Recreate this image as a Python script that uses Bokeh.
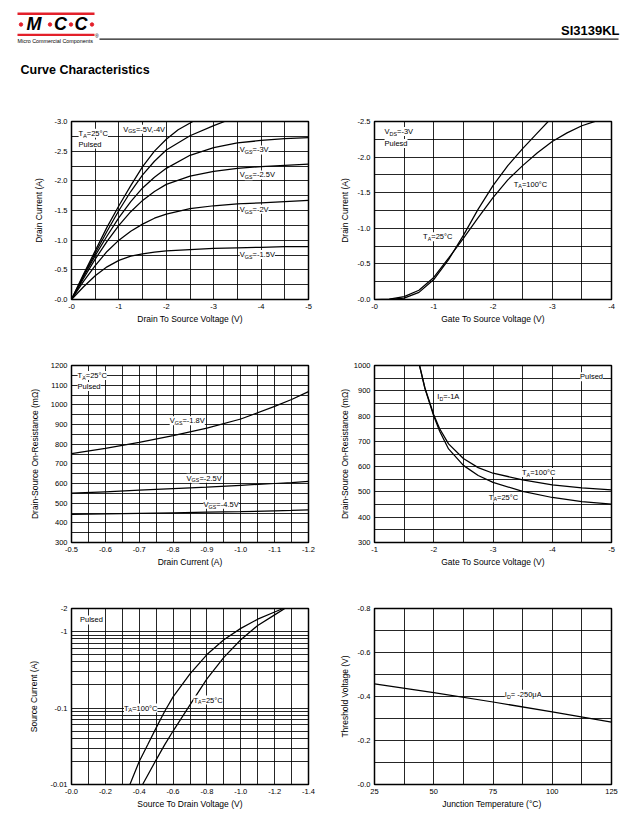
import numpy as np
from bokeh.plotting import figure
from bokeh.models import Range1d, FixedTicker, Label, BoxAnnotation, CustomJSTickFormatter
from bokeh.layouts import column, row
from bokeh.embed import file_html
from bokeh.resources import INLINE

FONT = "Liberation Sans"

# ---------------- data ----------------
# Fig 1 output characteristics (VDS in V, ID in A)
f1_vds = [0, -0.25, -0.5, -0.75, -1, -1.25, -1.5, -1.75, -2, -2.5, -3, -3.5, -4, -4.5, -5]
f1_vgs5_x = [0, -0.25, -0.5, -0.75, -1, -1.25, -1.5, -1.75, -2, -2.25, -2.56]
f1_vgs5_y = [0, -0.42, -0.82, -1.22, -1.58, -1.92, -2.24, -2.50, -2.70, -2.86, -3.0]
f1_vgs4_x = [0, -0.25, -0.5, -0.75, -1, -1.25, -1.5, -1.75, -2, -2.5, -3, -3.23]
f1_vgs4_y = [0, -0.40, -0.78, -1.15, -1.50, -1.82, -2.10, -2.33, -2.52, -2.76, -2.93, -3.0]
f1_vgs3 = [0, -0.38, -0.74, -1.07, -1.38, -1.65, -1.88, -2.06, -2.21, -2.43, -2.56, -2.64, -2.68, -2.71, -2.73]
f1_vgs25 = [0, -0.35, -0.68, -0.98, -1.25, -1.48, -1.67, -1.82, -1.94, -2.08, -2.16, -2.21, -2.24, -2.26, -2.28]
f1_vgs2 = [0, -0.30, -0.57, -0.81, -1.00, -1.15, -1.27, -1.37, -1.44, -1.53, -1.58, -1.61, -1.63, -1.65, -1.67]
f1_vgs15 = [0, -0.21, -0.40, -0.55, -0.66, -0.73, -0.77, -0.80, -0.82, -0.84, -0.86, -0.87, -0.88, -0.89, -0.89]
f1_xticks = [0, -1, -2, -3, -4, -5]
f1_xlabels = ["-0", "-1", "-2", "-3", "-4", "-5"]
f1_yticks = [0, -0.5, -1.0, -1.5, -2.0, -2.5, -3.0]
f1_ylabels = ["-0.0", "-0.5", "-1.0", "-1.5", "-2.0", "-2.5", "-3.0"]

# Fig 2 transfer characteristics (VGS in V, ID in A)
f2_vgs25 = [0, -0.25, -0.5, -0.75, -1, -1.25, -1.5, -1.75, -2, -2.25, -2.5, -2.75, -3]
f2_id25 = [0, -0.003, -0.02, -0.10, -0.28, -0.56, -0.90, -1.27, -1.60, -1.88, -2.12, -2.34, -2.56]
f2_vgs100 = [0, -0.25, -0.5, -0.75, -1, -1.25, -1.5, -1.75, -2, -2.25, -2.5, -2.75, -3, -3.25, -3.5, -3.75, -4]
f2_id100 = [0, -0.005, -0.04, -0.13, -0.31, -0.58, -0.86, -1.15, -1.43, -1.68, -1.88, -2.06, -2.22, -2.34, -2.44, -2.51, -2.57]
f2_xticks = [0, -1, -2, -3, -4]
f2_xlabels = ["-0", "-1", "-2", "-3", "-4"]
f2_yticks = [0, -0.5, -1.0, -1.5, -2.0, -2.5]
f2_ylabels = ["-0.0", "-0.5", "-1.0", "-1.5", "-2.0", "-2.5"]

# Fig 3 RDS(on) vs ID (A, mOhm)
f3_id = [-0.5, -0.6, -0.7, -0.8, -0.9, -1.0, -1.1, -1.15, -1.2]
f3_r18 = [752, 779, 809, 843, 882, 928, 992, 1027, 1067]
f3_r25 = [551, 558, 566, 574, 582, 591, 600, 605, 611]
f3_r45 = [443, 445, 448, 451, 454, 457, 461, 463, 466]
f3_xticks = [-0.5, -0.6, -0.7, -0.8, -0.9, -1.0, -1.1, -1.2]
f3_xlabels = ["-0.5", "-0.6", "-0.7", "-0.8", "-0.9", "-1.0", "-1.1", "-1.2"]
f3_yticks = [300, 400, 500, 600, 700, 800, 900, 1000, 1100, 1200]
f3_ylabels = [str(v) for v in f3_yticks]

# Fig 4 RDS(on) vs VGS (V, mOhm)
f4_vgs = [-1.75, -1.85, -2, -2.1, -2.25, -2.5, -2.75, -3, -3.5, -4, -4.5, -5]
f4_r25 = [1010, 910, 800, 740, 670, 605, 565, 538, 502, 478, 462, 452]
f4_r100 = [1010, 912, 805, 750, 690, 632, 596, 574, 548, 528, 516, 508]
f4_xticks = [-1, -2, -3, -4, -5]
f4_xlabels = ["-1", "-2", "-3", "-4", "-5"]
f4_yticks = [300, 400, 500, 600, 700, 800, 900, 1000]
f4_ylabels = [str(v) for v in f4_yticks]

# Fig 5 IS vs VSD (V, A)
f5_vsd100 = [-0.345, -0.40, -0.45, -0.50, -0.55, -0.60, -0.70, -0.80, -0.90, -1.00, -1.10, -1.20, -1.25]
f5_is100 = [-0.01, -0.02, -0.033, -0.055, -0.09, -0.14, -0.28, -0.50, -0.78, -1.10, -1.45, -1.80, -2.0]
f5_vsd25 = [-0.42, -0.50, -0.55, -0.60, -0.70, -0.80, -0.90, -1.00, -1.10, -1.20, -1.26]
f5_is25 = [-0.01, -0.021, -0.033, -0.05, -0.11, -0.24, -0.46, -0.78, -1.20, -1.65, -2.0]
f5_xticks = [0, -0.2, -0.4, -0.6, -0.8, -1.0, -1.2, -1.4]
f5_xlabels = ["-0.0", "-0.2", "-0.4", "-0.6", "-0.8", "-1.0", "-1.2", "-1.4"]
f5_yticks = [0.01, 0.1, 1, 2]
f5_ylabels = ["-0.01", "-0.1", "-1", "-2"]

# Fig 6 threshold voltage vs Tj (degC, V)
f6_tj = [25, 50, 75, 100, 125]
f6_vth = [-0.457, -0.418, -0.375, -0.330, -0.283]
f6_xticks = [25, 50, 75, 100, 125]
f6_xlabels = ["25", "50", "75", "100", "125"]
f6_yticks = [0, -0.2, -0.4, -0.6, -0.8]
f6_ylabels = ["-0.0", "-0.2", "-0.4", "-0.6", "-0.8"]

# ---------------- helpers ----------------
WID = {' ': 278, '(': 333, ')': 333, ',': 278, '-': 333, '.': 278, '=': 584, '°': 400,
       'μ': 576, 'Ω': 768, '—': 1000, 'A': 667, 'C': 722, 'D': 722, 'F': 611, 'G': 778,
       'I': 278, 'N': 722, 'O': 778, 'P': 667, 'R': 722, 'S': 667, 'T': 611, 'V': 667,
       'a': 556, 'c': 500, 'd': 556, 'e': 556, 'f': 278, 'g': 556, 'h': 556, 'i': 222,
       'l': 222, 'n': 556, 'o': 556, 'p': 556, 'r': 333, 's': 500, 't': 278, 'u': 556,
       'v': 500, 'x': 500, 'y': 500, 'k': 500, 'm': 833}
for d in "0123456789":
    WID[d] = 556


def tw(s, size):
    return sum(WID.get(c, 556) for c in s) * size / 1000.0


def rich(p, x, y, parts, size=7.5, align="left", bg=True, yoff=0.0, xoff=0.0):
    subsize = size * 0.72
    widths = [tw(t, subsize if sub else size) for t, sub in parts]
    total = sum(widths)
    cx = xoff - (total / 2 if align == "center" else (total if align == "right" else 0))
    for (t, sub), w in zip(parts, widths):
        fs = subsize if sub else size
        lab = Label(x=x, y=y, x_offset=cx, y_offset=yoff - (size * 0.3 if sub else 0), text=t,
                    text_font=FONT, text_font_size=f"{fs:.2f}px", text_baseline="middle",
                    text_align="left", text_color="black",
                    background_fill_color="white" if bg else None)
        p.add_layout(lab)
        cx += w


def make_fig(w, h, xr, yr, mb, xt, xl, yt, yl, xg, yg, xlabel, ylabel, ylog=False, ystand=8, xstand=2):
    p = figure(width=w, height=h, x_range=Range1d(*xr), y_range=Range1d(*yr),
               y_axis_type="log" if ylog else "linear",
               output_backend="svg", toolbar_location=None,
               min_border_left=mb[0], min_border_right=mb[1],
               min_border_top=mb[2], min_border_bottom=mb[3])
    p.background_fill_color = "white"
    p.border_fill_color = "white"
    p.outline_line_color = "black"
    p.outline_line_width = 1.5
    for ax, ticks, labels, title, st in ((p.xaxis[0], xt, xl, xlabel, xstand),
                                          (p.yaxis[0], yt, yl, ylabel, ystand)):
        ax.ticker = FixedTicker(ticks=ticks)
        ax.formatter = CustomJSTickFormatter(args=dict(t=ticks, l=labels), code="""
            for (let i = 0; i < t.length; i++) {
                if (Math.abs(tick - t[i]) <= 1e-9 * Math.max(1, Math.abs(t[i]))) return l[i];
            }
            return "";""")
        ax.axis_label = title
        ax.axis_line_color = None
        ax.major_tick_line_color = None
        ax.minor_tick_line_color = None
        ax.major_tick_out = 0
        ax.major_tick_in = 0
        ax.minor_tick_out = 0
        ax.major_label_standoff = 4
        ax.major_label_text_font = FONT
        ax.major_label_text_font_size = "7.5px"
        ax.major_label_text_color = "black"
        ax.axis_label_text_font = FONT
        ax.axis_label_text_font_size = "8.5px"
        ax.axis_label_text_font_style = "normal"
        ax.axis_label_text_color = "black"
        ax.axis_label_standoff = st
    p.xgrid.ticker = FixedTicker(ticks=xg)
    p.ygrid.ticker = FixedTicker(ticks=yg)
    p.grid.grid_line_color = "black"
    p.grid.grid_line_alpha = 0.85
    p.grid.grid_line_width = 1
    return p


def title(p, xr, ytop, parts):
    rich(p, (xr[0] + xr[1]) / 2, ytop, parts, size=9, align="center", bg=False, yoff=12)


LW = 1.25
LEFT_W, RIGHT_W = 328, 295
MB_L = (71, 20)
MB_R = (46, 12)

# ---------------- Fig 1 ----------------
xr1, yr1 = (0, -5), (0, -3)
f1 = make_fig(LEFT_W, 245, xr1, yr1, (*MB_L, 26, 41), f1_xticks, f1_xlabels, f1_yticks, f1_ylabels,
              list(np.arange(0, -5.01, -0.5)), list(np.arange(0, -3.01, -0.25)),
              "Drain To Source Voltage (V)", "Drain Current (A)")
f1.line(f1_vgs5_x, f1_vgs5_y, line_color="black", line_width=LW)
f1.line(f1_vgs4_x, f1_vgs4_y, line_color="black", line_width=LW)
for ys in (f1_vgs3, f1_vgs25, f1_vgs2, f1_vgs15):
    f1.line(f1_vds, ys, line_color="black", line_width=LW)
title(f1, xr1, -3, [("Fig. 1 - Output Charact eristics", False)])
rich(f1, -0.15, -2.80, [("T", False), ("A", True), ("=25°C", False)])
rich(f1, -0.15, -2.62, [("Pulsed", False)])
rich(f1, -1.09, -2.87, [("V", False), ("GS", True), ("=-5V,-4V", False)])
rich(f1, -3.55, -2.52, [("V", False), ("GS", True), ("=-3V", False)])
rich(f1, -3.55, -2.10, [("V", False), ("GS", True), ("=-2.5V", False)])
rich(f1, -3.55, -1.52, [("V", False), ("GS", True), ("=-2V", False)])
rich(f1, -3.55, -0.76, [("V", False), ("GS", True), ("=-1.5V", False)])

# ---------------- Fig 2 ----------------
xr2, yr2 = (0, -4), (0, -2.5)
f2 = make_fig(RIGHT_W, 245, xr2, yr2, (*MB_R, 26, 41), f2_xticks, f2_xlabels, f2_yticks, f2_ylabels,
              list(np.arange(0, -4.01, -0.5)), list(np.arange(0, -2.51, -0.25)),
              "Gate To Source Voltage (V)", "Drain Current (A)", ystand=5)
f2.line(f2_vgs25, f2_id25, line_color="black", line_width=LW)
f2.line(f2_vgs100, f2_id100, line_color="black", line_width=LW)
title(f2, xr2, -2.5, [("Fig. 2 - Transfer Characteristics", False)])
rich(f2, -0.17, -2.36, [("V", False), ("DS", True), ("=-3V", False)])
rich(f2, -0.17, -2.19, [("Pulesd", False)])
rich(f2, -2.35, -1.62, [("T", False), ("A", True), ("=100°C", False)])
rich(f2, -0.82, -0.88, [("T", False), ("A", True), ("=25°C", False)])

# ---------------- Fig 3 ----------------
xr3, yr3 = (-0.5, -1.2), (300, 1200)
f3 = make_fig(LEFT_W, 245, xr3, yr3, (*MB_L, 25, 43), f3_xticks, f3_xlabels, f3_yticks, f3_ylabels,
              list(np.arange(-0.5, -1.201, -0.05)), list(range(300, 1201, 50)),
              "Drain Current (A)", "Drain-Source On-Resistance (mΩ)", ystand=8)
for ys in (f3_r18, f3_r25, f3_r45):
    f3.line(f3_id, ys, line_color="black", line_width=LW)
title(f3, xr3, 1200, [("Fig. 3 - R", False), ("DS(ON)", True), ("—I", False), ("D", True)])
rich(f3, -0.518, 1149, [("T", False), ("A", True), ("=25°C", False)])
rich(f3, -0.518, 1093, [("Pulsed", False)])
rich(f3, -0.79, 919, [("V", False), ("GS", True), ("=-1.8V", False)])
rich(f3, -0.84, 627, [("V", False), ("GS", True), ("=-2.5V", False)])
rich(f3, -0.89, 494, [("V", False), ("GS", True), ("=-4.5V", False)])

# ---------------- Fig 4 ----------------
xr4, yr4 = (-1, -5), (300, 1000)
f4 = make_fig(RIGHT_W, 245, xr4, yr4, (*MB_R, 25, 43), f4_xticks, f4_xlabels, f4_yticks, f4_ylabels,
              list(np.arange(-1, -5.01, -0.5)), list(range(300, 1001, 50)),
              "Gate To Source Voltage (V)", "Drain-Source On-Resistance (mΩ)", ystand=1)
f4.line(f4_vgs, f4_r25, line_color="black", line_width=LW)
f4.line(f4_vgs, f4_r100, line_color="black", line_width=LW)
title(f4, xr4, 1000, [("Fig. 4 - R", False), ("DS(ON)", True), ("—V", False), ("GS", True)])
rich(f4, -2.06, 877, [("I", False), ("D", True), ("=-1A", False)])
rich(f4, -3.49, 577, [("T", False), ("A", True), ("=100°C", False)])
rich(f4, -2.93, 479, [("T", False), ("A", True), ("=25°C", False)])
rich(f4, -4.47, 956, [("Pulsed", False)])

# ---------------- Fig 5 ----------------
xr5, yr5 = (0, -1.4), (0.01, 2)
ygrid5 = [0.01 * k for k in range(1, 10)] + [0.1 * k for k in range(1, 10)] + [1, 2]
f5 = make_fig(LEFT_W, 231, xr5, yr5, (*MB_L, 23, 32), f5_xticks, f5_xlabels, f5_yticks, f5_ylabels,
              list(np.arange(0, -1.401, -0.1)), ygrid5,
              "Source To Drain Voltage (V)", "Source Current (A)", ylog=True, ystand=8)
f5.line(f5_vsd100, list(np.abs(f5_is100)), line_color="black", line_width=LW)
f5.line(f5_vsd25, list(np.abs(f5_is25)), line_color="black", line_width=LW)
title(f5, xr5, 2, [("Fig. 3 - I", False), ("S", True), ("—V", False), ("SD", True)])
rich(f5, -0.05, 1.42, [("Pulsed", False)])
rich(f5, -0.31, 0.1, [("T", False), ("A", True), ("=100°C", False)])
rich(f5, -0.72, 0.127, [("T", False), ("A", True), ("=25°C", False)])

# ---------------- Fig 6 ----------------
xr6, yr6 = (25, 125), (0, -0.8)
f6 = make_fig(RIGHT_W, 231, xr6, yr6, (*MB_R, 23, 32), f6_xticks, f6_xlabels, f6_yticks, f6_ylabels,
              list(np.arange(25, 125.01, 12.5)), list(np.arange(0, -0.801, -0.1)),
              "Junction Temperature  (°C)", "Threshold Voltage (V)", ystand=5)
f6.line(f6_tj, f6_vth, line_color="black", line_width=LW)
title(f6, xr6, -0.8, [("Fig. 6 - Threshold Voltage", False)])
rich(f6, 80, -0.41, [("I", False), ("D", True), ("= -250μA", False)])

# ---------------- header ----------------
RED = "#e3202a"
hdr = figure(width=623, height=95, x_range=Range1d(-8, 615), y_range=Range1d(87, -8),
             x_axis_type=None, y_axis_type=None, output_backend="svg", toolbar_location=None,
             min_border=0)
hdr.grid.visible = False
hdr.outline_line_color = None
hdr.add_layout(BoxAnnotation(left=9, right=86, top=4, bottom=6.5, fill_color=RED, fill_alpha=1, line_color=None))
hdr.add_layout(BoxAnnotation(left=9, right=86, top=25.3, bottom=27.5, fill_color=RED, fill_alpha=1, line_color=None))
for xx, t in ((18, "M"), (45.5, "C"), (66, "C")):
    hdr.add_layout(Label(x=xx, y=15.5, text=t, text_font=FONT, text_font_size="18px",
                         text_font_style="bold italic", text_color="black", text_baseline="middle"))
hdr.scatter(x=[12.5, 41.5, 62.5, 83.5], y=[16, 16, 16, 16], size=3.4, color=RED)
hdr.add_layout(Label(x=9, y=32.5, text="Micro Commercial Components", text_font=FONT,
                     text_font_size="5.4px", text_color="black", text_baseline="middle"))
hdr.add_layout(Label(x=86.5, y=27.5, text="®", text_font=FONT, text_font_size="5px",
                     text_color="black", text_baseline="middle"))
hdr.add_layout(BoxAnnotation(left=91, right=610, top=29.9, bottom=31.2, fill_color="black", fill_alpha=0.9, line_color=None))
hdr.add_layout(Label(x=611, y=22, text="SI3139KL", text_font=FONT, text_font_size="13px",
                     text_font_style="bold", text_color="black", text_align="right", text_baseline="middle"))
hdr.add_layout(Label(x=12, y=61, text="Curve Characteristics", text_font=FONT, text_font_size="12.5px",
                     text_font_style="bold", text_color="black", text_baseline="middle"))

layout = column(hdr, row(f1, f2), row(f3, f4), row(f5, f6))
open("out.html", "w").write(file_html(layout, INLINE))
